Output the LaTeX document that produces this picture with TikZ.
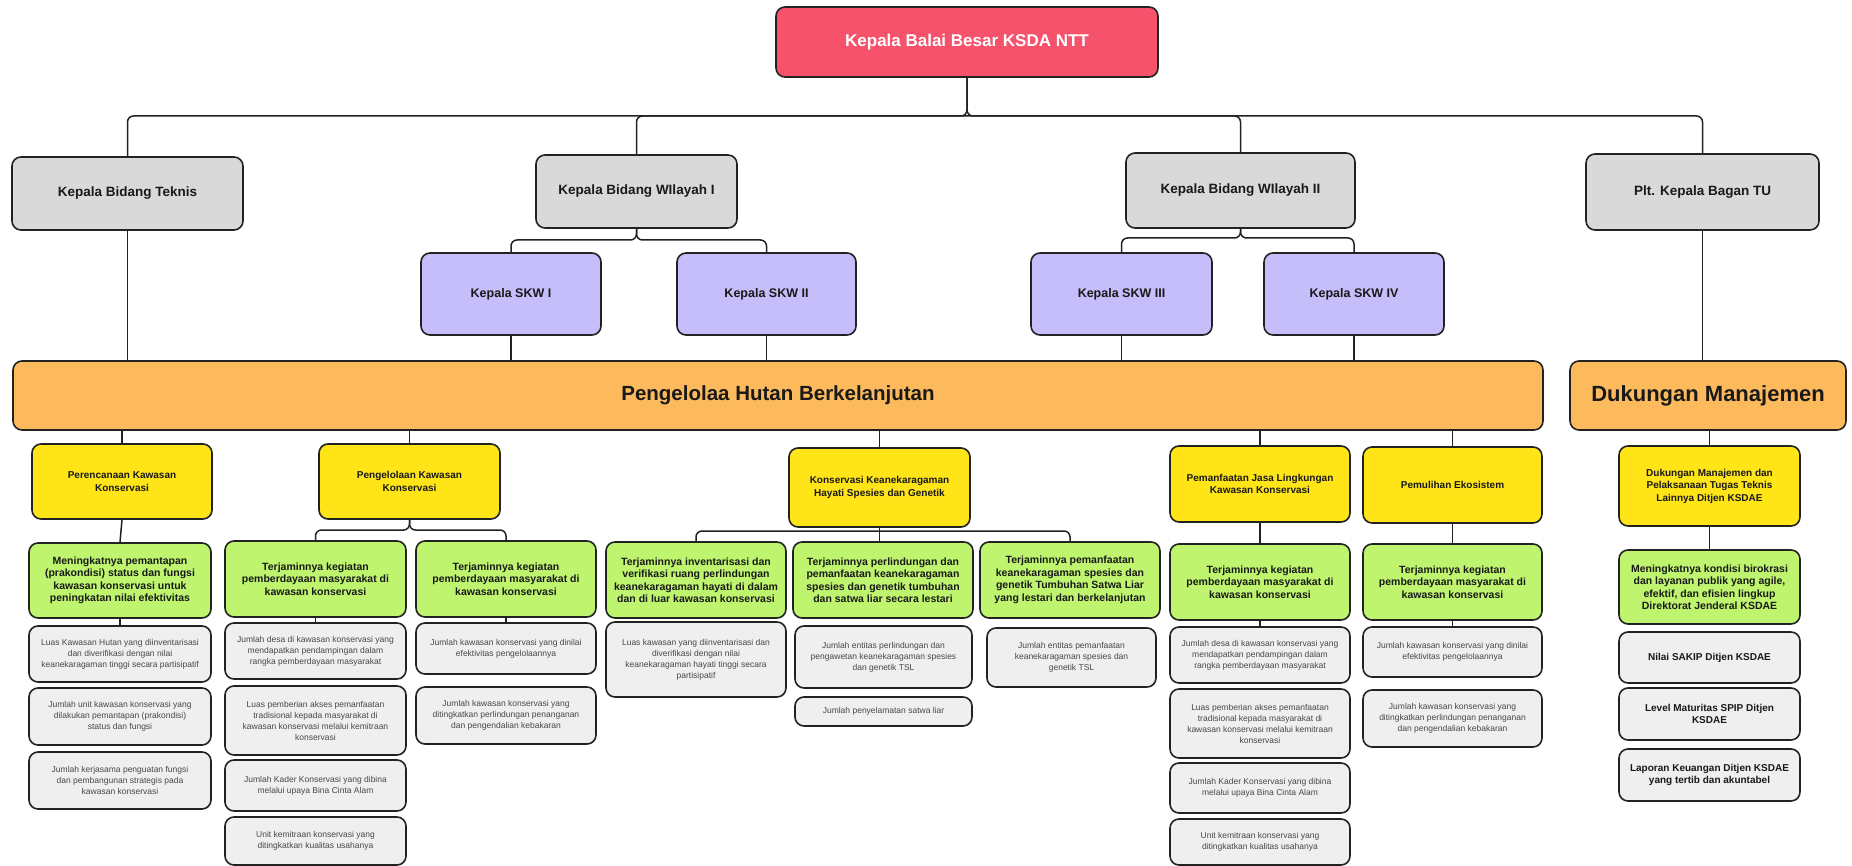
\documentclass[tikz,border=0pt]{standalone}
\usepackage{fontspec}
\setmainfont{Liberation Sans}
\definecolor{redc}{HTML}{F6526C}
\definecolor{topg}{HTML}{D9D9D9}
\definecolor{lav}{HTML}{C5BEFA}
\definecolor{orng}{HTML}{FDBA5C}
\definecolor{yel}{HTML}{FFE418}
\definecolor{grn}{HTML}{BEF46E}
\definecolor{lgry}{HTML}{EFEFEF}
\definecolor{lnc}{HTML}{222222}
\newcommand\mkbox[7]{\node[#2, minimum width={#5-#3}, minimum height={#6-#4}] (#1) at ({(#3+#5)/2},{(#4+#6)/2}) {#7};}
\tikzset{
 base/.style={draw=lnc, line width=1.6pt, rounded corners=9pt, align=center, inner sep=1pt},
 redbox/.style={base, fill=redc, text=white, font=\fontsize{17}{20}\selectfont\bfseries},
 topbox/.style={base, fill=topg, text=black!90, font=\fontsize{13.5}{16}\selectfont\bfseries},
 skwbox/.style={base, fill=lav, text=black!90, font=\fontsize{12.5}{15}\selectfont\bfseries},
 bandbox/.style={base, fill=orng, text=black!90, font=\fontsize{20.5}{24}\selectfont\bfseries},
 yelbox/.style={base, fill=yel, text=black!90, font=\fontsize{10}{12.5}\selectfont\bfseries},
 grnbox/.style={base, fill=grn, text=black!90, font=\fontsize{10.5}{12.5}\selectfont\bfseries},
 grybox/.style={base, fill=lgry, text=black!72, font=\fontsize{8.5}{11}\selectfont},
 grybold/.style={base, fill=lgry, text=black!90, font=\fontsize{10}{12.5}\selectfont\bfseries},
 conn/.style={draw=lnc, line width=1.5pt, rounded corners=6pt}
}
\begin{document}
\begin{tikzpicture}[x=1pt,y=-1pt]
\useasboundingbox[fill=white] (0,0) rectangle (1852,866);
% top level
\mkbox{red}{redbox}{776}{7}{1158}{77}{Kepala Balai Besar KSDA NTT}
\mkbox{tek}{topbox}{12}{157}{243}{230}{Kepala Bidang Teknis}
\mkbox{wil1}{topbox}{536}{155}{737}{228}{Kepala Bidang WIlayah I}
\mkbox{wil2}{topbox}{1126}{153}{1355}{228}{Kepala Bidang WIlayah II}
\mkbox{plt}{topbox}{1586}{154}{1819}{230}{Plt. Kepala Bagan TU}
\mkbox{skw1}{skwbox}{421}{253}{601}{335}{Kepala SKW I}
\mkbox{skw2}{skwbox}{677}{253}{856}{335}{Kepala SKW II}
\mkbox{skw3}{skwbox}{1031}{253}{1212}{335}{Kepala SKW III}
\mkbox{skw4}{skwbox}{1264}{253}{1444}{335}{Kepala SKW IV}
\mkbox{band}{bandbox}{13}{361}{1543}{430}{Pengelolaa Hutan Berkelanjutan}
\mkbox{duk}{bandbox, font=\fontsize{22}{25}\selectfont\bfseries}{1570}{361}{1846}{430}{Dukungan Manajemen}
% yellow
\mkbox{y1}{yelbox}{32}{444}{212}{519}{Perencanaan Kawasan\\Konservasi}
\mkbox{y2}{yelbox}{319}{444}{500}{519}{Pengelolaan Kawasan\\Konservasi}
\mkbox{y3}{yelbox}{789}{448}{970}{527}{Konservasi Keanekaragaman\\Hayati Spesies dan Genetik}
\mkbox{y4}{yelbox}{1170}{446}{1350}{522}{Pemanfaatan Jasa Lingkungan\\Kawasan Konservasi}
\mkbox{y5}{yelbox}{1363}{447}{1542}{523}{Pemulihan Ekosistem}
\mkbox{y6}{yelbox}{1619}{446}{1800}{526}{Dukungan Manajemen dan\\Pelaksanaan Tugas Teknis\\Lainnya Ditjen KSDAE}
% green
\mkbox{g1}{grnbox}{29}{543}{211}{618}{Meningkatnya pemantapan\\(prakondisi) status dan fungsi\\kawasan konservasi untuk\\peningkatan nilai efektivitas}
\mkbox{gA}{grnbox}{225}{541}{406}{617}{Terjaminnya kegiatan\\pemberdayaan masyarakat di\\kawasan konservasi}
\mkbox{gB}{grnbox}{416}{541}{596}{617}{Terjaminnya kegiatan\\pemberdayaan masyarakat di\\kawasan konservasi}
\mkbox{gC1}{grnbox}{606}{542}{786}{618}{Terjaminnya inventarisasi dan\\verifikasi ruang perlindungan\\keanekaragaman hayati di dalam\\dan di luar kawasan konservasi}
\mkbox{gC2}{grnbox}{793}{542}{973}{618}{Terjaminnya perlindungan dan\\pemanfaatan keanekaragaman\\spesies dan genetik tumbuhan\\dan satwa liar secara lestari}
\mkbox{gC3}{grnbox}{980}{542}{1160}{618}{Terjaminnya pemanfaatan\\keanekaragaman spesies dan\\genetik Tumbuhan Satwa Liar\\yang lestari dan berkelanjutan}
\mkbox{gD}{grnbox}{1170}{544}{1350}{620}{Terjaminnya kegiatan\\pemberdayaan masyarakat di\\kawasan konservasi}
\mkbox{gE}{grnbox}{1363}{544}{1542}{620}{Terjaminnya kegiatan\\pemberdayaan masyarakat di\\kawasan konservasi}
\mkbox{gF}{grnbox}{1619}{550}{1800}{624}{Meningkatnya kondisi birokrasi\\dan layanan publik yang agile,\\efektif, dan efisien lingkup\\Direktorat Jenderal KSDAE}
% grey column 1
\mkbox{h11}{grybox}{29}{626}{211}{682}{Luas Kawasan Hutan yang diinventarisasi\\dan diverifikasi dengan nilai\\keanekaragaman tinggi secara partisipatif}
\mkbox{h12}{grybox}{29}{688}{211}{745}{Jumlah unit kawasan konservasi yang\\dilakukan pemantapan (prakondisi)\\status dan fungsi}
\mkbox{h13}{grybox}{29}{752}{211}{809}{Jumlah kerjasama penguatan fungsi\\dan pembangunan strategis pada\\kawasan konservasi}
% grey column A
\mkbox{hA1}{grybox}{225}{623}{406}{679}{Jumlah desa di kawasan konservasi yang\\mendapatkan pendampingan dalam\\rangka pemberdayaan masyarakat}
\mkbox{hA2}{grybox}{225}{686}{406}{755}{Luas pemberian akses pemanfaatan\\tradisional kepada masyarakat di\\kawasan konservasi melalui kemitraan\\konservasi}
\mkbox{hA3}{grybox}{225}{760}{406}{811}{Jumlah Kader Konservasi yang dibina\\melalui upaya Bina Cinta Alam}
\mkbox{hA4}{grybox}{225}{817}{406}{865}{Unit kemitraan konservasi yang\\ditingkatkan kualitas usahanya}
% grey column B
\mkbox{hB1}{grybox}{416}{623}{596}{674}{Jumlah kawasan konservasi yang dinilai\\efektivitas pengelolaannya}
\mkbox{hB2}{grybox}{416}{687}{596}{744}{Jumlah kawasan konservasi yang\\ditingkatkan perlindungan penanganan\\dan pengendalian kebakaran}
% grey column C
\mkbox{hC1}{grybox}{606}{622}{786}{697}{Luas kawasan yang diinventarisasi dan\\diverifikasi dengan nilai\\keanekaragaman hayati tinggi secara\\partisipatif}
\mkbox{hC2a}{grybox}{795}{626}{972}{688}{Jumlah entitas perlindungan dan\\pengawetan keanekaragaman spesies\\dan genetik TSL}
\mkbox{hC2b}{grybox}{795}{697}{972}{726}{Jumlah penyelamatan satwa liar}
\mkbox{hC3}{grybox}{987}{628}{1156}{687}{Jumlah entitas pemanfaatan\\keanekaragaman spesies dan\\genetik TSL}
% grey column D
\mkbox{hD1}{grybox}{1170}{627}{1350}{683}{Jumlah desa di kawasan konservasi yang\\mendapatkan pendampingan dalam\\rangka pemberdayaan masyarakat}
\mkbox{hD2}{grybox}{1170}{689}{1350}{758}{Luas pemberian akses pemanfaatan\\tradisional kepada masyarakat di\\kawasan konservasi melalui kemitraan\\konservasi}
\mkbox{hD3}{grybox}{1170}{763}{1350}{813}{Jumlah Kader Konservasi yang dibina\\melalui upaya Bina Cinta Alam}
\mkbox{hD4}{grybox}{1170}{819}{1350}{865}{Unit kemitraan konservasi yang\\ditingkatkan kualitas usahanya}
% grey column E
\mkbox{hE1}{grybox}{1363}{627}{1542}{677}{Jumlah kawasan konservasi yang dinilai\\efektivitas pengelolaannya}
\mkbox{hE2}{grybox}{1363}{690}{1542}{747}{Jumlah kawasan konservasi yang\\ditingkatkan perlindungan penanganan\\dan pengendalian kebakaran}
% grey column F
\mkbox{hF1}{grybold}{1619}{632}{1800}{683}{Nilai SAKIP Ditjen KSDAE}
\mkbox{hF2}{grybold}{1619}{688}{1800}{740}{Level Maturitas SPIP Ditjen\\KSDAE}
\mkbox{hF3}{grybold}{1619}{749}{1800}{801}{Laporan Keuangan Ditjen KSDAE\\yang tertib dan akuntabel}
% connectors: top
\coordinate (jR) at (967,116);
\draw[conn] (red.south) -- (jR) -| (tek.north);
\draw[conn] (red.south) -- (jR) -| (plt.north);
\draw[conn] (wil1.north) |- (jR);
\draw[conn] (wil2.north) |- (jR);
\coordinate (jW1) at (636.5,240);
\coordinate (jW2) at (1240.5,238);
\draw[conn] (wil1.south) -- (jW1) -| (skw1.north);
\draw[conn] (wil1.south) -- (jW1) -| (skw2.north);
\draw[conn] (wil2.south) -- (jW2) -| (skw3.north);
\draw[conn] (wil2.south) -- (jW2) -| (skw4.north);
\foreach \s in {skw1,skw2,skw3,skw4,tek}{\draw[conn] (\s.south) -- (\s.south |- band.north);}
\draw[conn] (plt.south) -- (plt.south |- duk.north);
% band to yellow
\foreach \s in {y1,y2,y3,y4,y5}{\draw[conn] (\s.north |- band.south) -- (\s.north);}
\draw[conn] (y6.north |- duk.south) -- (y6.north);
% yellow to green
\draw[conn] (y1.south) -- (g1.north);
\coordinate (jP) at (409.5,530);
\draw[conn] (y2.south) -- (jP) -| (gA.north);
\draw[conn] (y2.south) -- (jP) -| (gB.north);
\coordinate (jK) at (879.5,531);
\draw[conn] (gC1.north) |- (jK) -| (gC3.north);
\draw[conn] (y3.south) -- (y3.south |- gC2.north);
\draw[conn] (y4.south) -- (gD.north);
\draw[conn] (y5.south) -- (gE.north);
\draw[conn] (y6.south) -- (gF.north);
% green to grey
\draw[conn] (g1.south) -- (h11.north);
\draw[conn] (gA.south) -- (hA1.north);
\draw[conn] (gB.south) -- (hB1.north);
\draw[conn] (gD.south) -- (hD1.north);
\draw[conn] (gE.south) -- (hE1.north);
\end{tikzpicture}
\end{document}
